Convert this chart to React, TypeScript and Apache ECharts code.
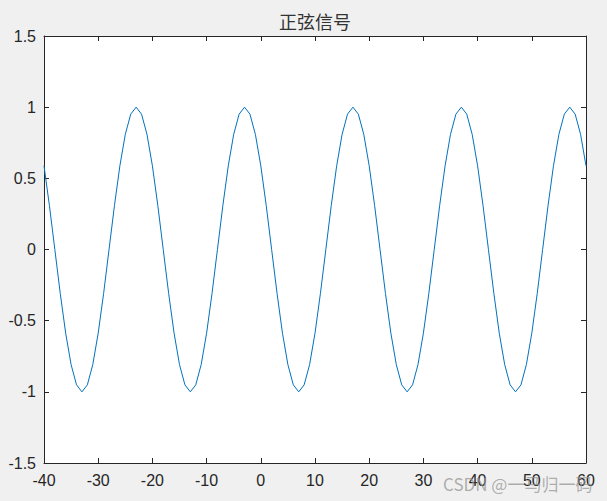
import React, { useEffect, useRef } from "react";
import * as echarts from "echarts";

const titleText = "正弦信号";
const watermarkText = "CSDN @一马归一码";

const xValues = [
  -40, -39, -38, -37, -36, -35, -34, -33, -32, -31,
  -30, -29, -28, -27, -26, -25, -24, -23, -22, -21,
  -20, -19, -18, -17, -16, -15, -14, -13, -12, -11,
  -10, -9, -8, -7, -6, -5, -4, -3, -2, -1,
  0, 1, 2, 3, 4, 5, 6, 7, 8, 9,
  10, 11, 12, 13, 14, 15, 16, 17, 18, 19,
  20, 21, 22, 23, 24, 25, 26, 27, 28, 29,
  30, 31, 32, 33, 34, 35, 36, 37, 38, 39,
  40, 41, 42, 43, 44, 45, 46, 47, 48, 49,
  50, 51, 52, 53, 54, 55, 56, 57, 58, 59,
  60,
];

const yValues = [
  0.588, 0.309, 0, -0.309, -0.588, -0.809, -0.951, -1, -0.951, -0.809,
  -0.588, -0.309, 0, 0.309, 0.588, 0.809, 0.951, 1, 0.951, 0.809,
  0.588, 0.309, 0, -0.309, -0.588, -0.809, -0.951, -1, -0.951, -0.809,
  -0.588, -0.309, 0, 0.309, 0.588, 0.809, 0.951, 1, 0.951, 0.809,
  0.588, 0.309, 0, -0.309, -0.588, -0.809, -0.951, -1, -0.951, -0.809,
  -0.588, -0.309, 0, 0.309, 0.588, 0.809, 0.951, 1, 0.951, 0.809,
  0.588, 0.309, 0, -0.309, -0.588, -0.809, -0.951, -1, -0.951, -0.809,
  -0.588, -0.309, 0, 0.309, 0.588, 0.809, 0.951, 1, 0.951, 0.809,
  0.588, 0.309, 0, -0.309, -0.588, -0.809, -0.951, -1, -0.951, -0.809,
  -0.588, -0.309, 0, 0.309, 0.588, 0.809, 0.951, 1, 0.951, 0.809,
  0.588,
];

const xMin = -40;
const xMax = 60;
const xStep = 10;
const yMin = -1.5;
const yMax = 1.5;
const yStep = 0.5;

export default function App() {
  const ref = useRef<HTMLDivElement>(null);

  useEffect(() => {
    if (!ref.current) return;
    const chart = echarts.init(ref.current, undefined, { renderer: "svg" });
    const axisColor = "#262626";
    const font = "Arial, 'Liberation Sans', Helvetica, sans-serif";
    const mkX = (pos: "bottom" | "top", labels: boolean) => ({
      type: "value" as const,
      position: pos,
      min: xMin,
      max: xMax,
      interval: xStep,
      axisLine: { show: true, onZero: false, lineStyle: { color: axisColor, width: 1 } },
      axisTick: { show: true, inside: true, length: 5, lineStyle: { color: axisColor } },
      axisLabel: {
        show: labels,
        color: axisColor,
        fontSize: 16,
        fontFamily: font,
        margin: 9,
      },
      splitLine: { show: false },
    });
    const mkY = (pos: "left" | "right", labels: boolean) => ({
      type: "value" as const,
      position: pos,
      min: yMin,
      max: yMax,
      interval: yStep,
      axisLine: { show: true, onZero: false, lineStyle: { color: axisColor, width: 1 } },
      axisTick: { show: true, inside: true, length: 5, lineStyle: { color: axisColor } },
      axisLabel: {
        show: labels,
        color: axisColor,
        fontSize: 16,
        fontFamily: font,
        margin: 8,
      },
      splitLine: { show: false },
    });
    chart.setOption({
      animation: false,
      backgroundColor: "#f0f0f0",
      grid: {
        left: 44,
        right: 21,
        top: 36,
        bottom: 38,
        show: true,
        backgroundColor: "#ffffff",
        borderWidth: 0,
      },
      xAxis: [mkX("bottom", true), mkX("top", false)],
      yAxis: [mkY("left", true), mkY("right", false)],
      series: [
        {
          type: "line",
          data: xValues.map((x, i) => [x, yValues[i]]),
          xAxisIndex: 0,
          yAxisIndex: 0,
          showSymbol: false,
          symbol: "none",
          lineStyle: { color: "#0072BD", width: 1 },
          clip: true,
        },
      ],
      graphic: [
        {
          type: "text",
          x: 315,
          y: 21,
          style: {
            text: titleText,
            fontSize: 18,
            fontFamily: "'Noto Sans CJK SC', sans-serif",
            fill: "#333333",
            textAlign: "center",
            textVerticalAlign: "middle",
          },
        },
        {
          type: "text",
          x: 443,
          y: 483,
          z: 100,
          style: {
            text: watermarkText,
            fontSize: 17,
            fontFamily: "'Noto Sans CJK SC', sans-serif",
            fill: "rgba(150,150,150,0.75)",
            textAlign: "left",
            textVerticalAlign: "middle",
          },
        },
      ],
    });
    return () => chart.dispose();
  }, []);

  return (
    <div
      ref={ref}
      style={{ position: "fixed", left: 0, top: 0, width: 607, height: 501 }}
    />
  );
}
